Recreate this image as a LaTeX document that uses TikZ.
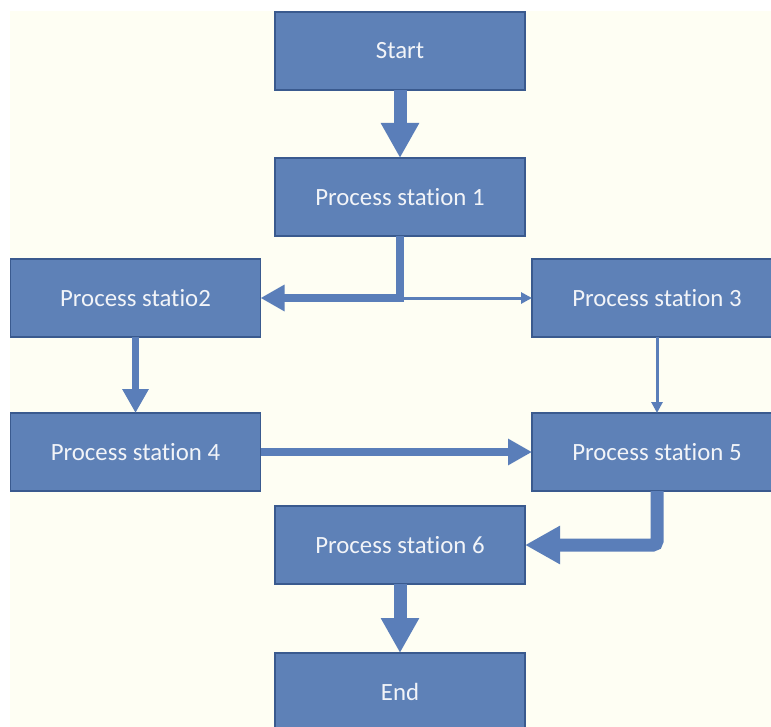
\documentclass[tikz,border=0pt]{standalone}
\usepackage{fontspec}
\setmainfont{Carlito}[Ligatures={NoCommon}]
\usetikzlibrary{arrows.meta}

\definecolor{paper}{HTML}{FEFEF3}
\definecolor{boxfill}{HTML}{5E81B7}
\definecolor{boxline}{HTML}{3A5A8E}
\definecolor{flow}{HTML}{5A7EB9}
\definecolor{label}{HTML}{F2F4F8}

\tikzset{
  stepbox/.style={draw=boxline, line width=1.6bp, fill=boxfill,
    minimum width=250bp, minimum height=78bp, inner sep=0pt, outer sep=0pt,
    text=label, font=\fontsize{24.8bp}{28bp}\selectfont},
  bigflow/.style={draw=flow, line width=13bp, rounded corners=4bp,
    -{Triangle[length=35bp, width=36bp]}},
  midflow/.style={draw=flow, line width=7.5bp,
    -{Triangle[length=24bp, width=25bp]}},
  thinflow/.style={draw=flow, line width=3bp,
    -{Triangle[length=11bp, width=11bp]}}
}

\begin{document}
\begin{tikzpicture}[x=1bp, y=-1bp]
  \useasboundingbox (0,0) rectangle (771,727);
  \clip (0,0) rectangle (771,727);
  \fill[white] (0,0) rectangle (771,727);
  \fill[paper] (10,11) rectangle (771,727);

  % stations
  \node[stepbox] (start) at (400,51)  {\raisebox{-1bp}{Start}};
  \node[stepbox] (ps1)   at (400,197) {\raisebox{-1bp}{Process station 1}};
  \node[stepbox] (ps2)   at (135.5,298) {\raisebox{-1bp}{Process statio2}};
  \node[stepbox] (ps3)   at (657,298) {\raisebox{-1bp}{Process station 3}};
  \node[stepbox] (ps4)   at (135.5,452) {\raisebox{-1bp}{Process station 4}};
  \node[stepbox] (ps5)   at (657,452) {\raisebox{-1bp}{Process station 5}};
  \node[stepbox] (ps6)   at (400,545) {\raisebox{-1bp}{Process station 6}};
  \node[stepbox] (end)   at (400,692) {\raisebox{-1bp}{End}};

  % flow between stations
  \draw[bigflow] (start) -- (ps1);
  \draw[midflow] (ps1.south) |- (ps2.east);
  \draw[thinflow] (ps1.south |- ps3.west) -- (ps3.west);
  \draw[midflow] (ps2.south) -- (ps4.north);
  \draw[thinflow] (ps3.south) -- (ps5.north);
  \draw[midflow] (ps4.east) -- (ps5.west);
  \draw[bigflow] (ps5.south) |- (ps6.east);
  \draw[bigflow] (ps6) -- (end);
\end{tikzpicture}
\end{document}
